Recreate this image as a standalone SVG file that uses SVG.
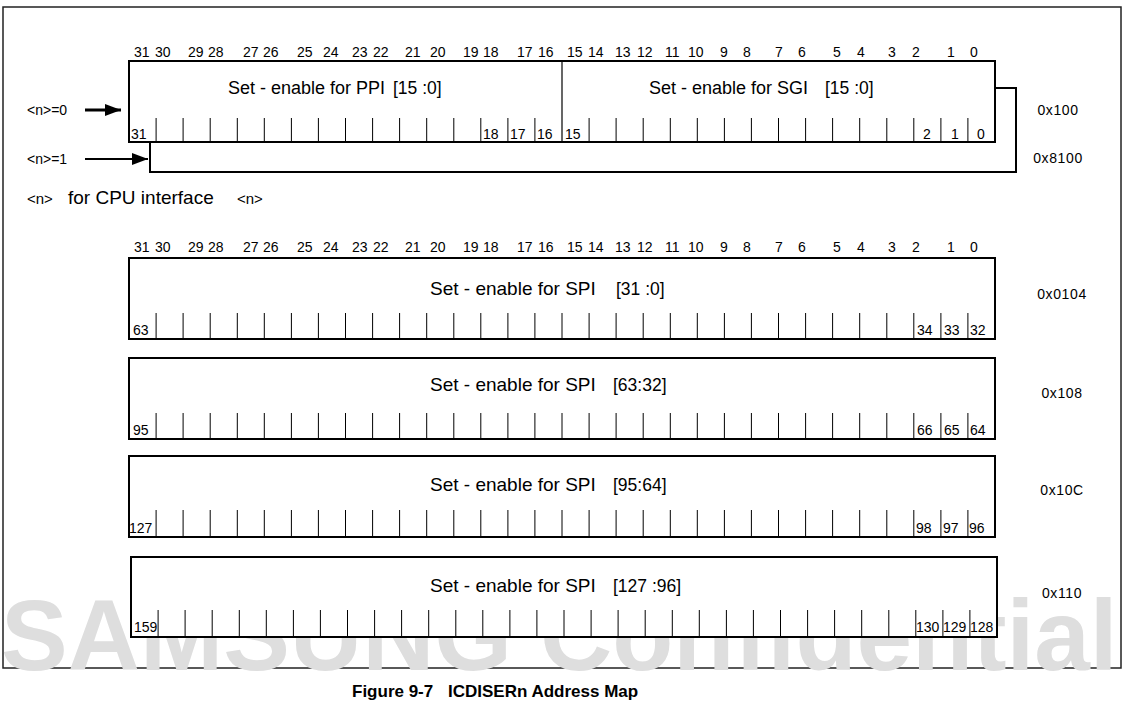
<svg xmlns="http://www.w3.org/2000/svg" width="1124" height="710" viewBox="0 0 1124 710">
<defs>
<marker id="ah" markerWidth="16" markerHeight="12" refX="16" refY="6" orient="auto" markerUnits="userSpaceOnUse">
<path d="M0,0 L16,6 L0,12 Z" fill="#000"/>
</marker>
<style>
text{font-family:"Liberation Sans",Arial,sans-serif;fill:#000}
.bit{font-size:14px}
.cell{font-size:14px}
.ttl{font-size:19px}
.ttl2{font-size:18px}
.rng{font-size:17.5px}
.adr{font-size:14px;letter-spacing:0.6px}
.lbl{font-size:14px}
.box{fill:#fff;stroke:#000;stroke-width:2}
.tick{fill:none;stroke:#000;stroke-width:1}
.wm{font-family:"Liberation Sans",Arial,sans-serif;font-weight:bold;font-size:100px;fill:#dedede}
.cap{font-family:"Liberation Sans",Arial,sans-serif;font-weight:bold;font-size:17px}
</style>
</defs>
<rect x="3" y="7" width="1118" height="661" fill="none" stroke="#222" stroke-width="1.5"/>
<text class="wm" x="1" y="670">SAMSUNG Confidential</text>

<g id="bits-top">
<text class="bit" y="57"><tspan x="134">31</tspan><tspan x="155">30</tspan><tspan x="188">29</tspan><tspan x="208">28</tspan><tspan x="243">27</tspan><tspan x="263">26</tspan><tspan x="297">25</tspan><tspan x="323">24</tspan><tspan x="352">23</tspan><tspan x="373">22</tspan><tspan x="405">21</tspan><tspan x="430">20</tspan><tspan x="463">19</tspan><tspan x="483">18</tspan><tspan x="517">17</tspan><tspan x="538">16</tspan><tspan x="567">15</tspan><tspan x="588">14</tspan><tspan x="615">13</tspan><tspan x="637">12</tspan><tspan x="665">11</tspan><tspan x="688">10</tspan><tspan x="720">9</tspan><tspan x="743">8</tspan><tspan x="775">7</tspan><tspan x="798">6</tspan><tspan x="833">5</tspan><tspan x="857">4</tspan><tspan x="888">3</tspan><tspan x="912">2</tspan><tspan x="947">1</tspan><tspan x="970">0</tspan></text>
</g>

<g id="reg-ppi-sgi">
<rect class="box" x="129" y="61" width="866" height="81"/>
<line x1="562" y1="61" x2="562" y2="142" stroke="#000" stroke-width="1.2"/>
<path class="tick" d="M156.1 118V142M183.1 118V142M210.2 118V142M237.3 118V142M264.3 118V142M291.4 118V142M318.4 118V142M345.5 118V142M372.6 118V142M399.6 118V142M426.7 118V142M453.8 118V142M480.8 118V142M507.9 118V142M534.9 118V142M589.1 118V142M616.1 118V142M643.2 118V142M670.3 118V142M697.3 118V142M724.4 118V142M751.4 118V142M778.5 118V142M805.6 118V142M832.6 118V142M859.7 118V142M886.8 118V142M913.8 118V142M940.9 118V142M967.9 118V142"/>
<text y="94"><tspan class="ttl2" x="228">Set - enable for PPI</tspan><tspan class="rng" x="393">[15 :0]</tspan></text>
<text y="94"><tspan class="ttl2" x="649">Set - enable for SGI</tspan><tspan class="rng" x="825">[15 :0]</tspan></text>
<text class="cell" y="139"><tspan x="131">31</tspan><tspan x="483">18</tspan><tspan x="510">17</tspan><tspan x="537">16</tspan><tspan x="565">15</tspan><tspan x="923">2</tspan><tspan x="951">1</tspan><tspan x="977">0</tspan></text>
</g>

<g id="connectors">
<path d="M150 142V172H1016V88H995" fill="none" stroke="#000" stroke-width="2"/>
<line x1="85" y1="110" x2="121" y2="110" stroke="#000" stroke-width="3" marker-end="url(#ah)"/>
<line x1="85" y1="159" x2="148" y2="159" stroke="#000" stroke-width="2" marker-end="url(#ah)"/>
</g>

<g id="labels-n">
<text class="lbl" x="27" y="115">&lt;n&gt;=0</text>
<text class="lbl" x="27" y="164">&lt;n&gt;=1</text>
<text y="204"><tspan font-size="15px" x="27">&lt;n&gt;</tspan><tspan font-size="19px" x="68">for CPU interface</tspan><tspan font-size="15px" x="237">&lt;n&gt;</tspan></text>
<text class="adr" x="1058" y="115" text-anchor="middle">0x100</text>
<text class="adr" x="1058" y="163" text-anchor="middle">0x8100</text>
</g>

<g id="bits-spi">
<text class="bit" y="252"><tspan x="134">31</tspan><tspan x="155">30</tspan><tspan x="188">29</tspan><tspan x="208">28</tspan><tspan x="243">27</tspan><tspan x="263">26</tspan><tspan x="297">25</tspan><tspan x="323">24</tspan><tspan x="352">23</tspan><tspan x="373">22</tspan><tspan x="405">21</tspan><tspan x="430">20</tspan><tspan x="463">19</tspan><tspan x="483">18</tspan><tspan x="517">17</tspan><tspan x="538">16</tspan><tspan x="567">15</tspan><tspan x="588">14</tspan><tspan x="615">13</tspan><tspan x="637">12</tspan><tspan x="665">11</tspan><tspan x="688">10</tspan><tspan x="720">9</tspan><tspan x="743">8</tspan><tspan x="775">7</tspan><tspan x="798">6</tspan><tspan x="833">5</tspan><tspan x="857">4</tspan><tspan x="888">3</tspan><tspan x="912">2</tspan><tspan x="947">1</tspan><tspan x="970">0</tspan></text>
</g>

<g id="reg-spi-31-0">
<rect class="box" x="129" y="258" width="866" height="81"/>
<path class="tick" d="M156.1 313V339M183.1 313V339M210.2 313V339M237.3 313V339M264.3 313V339M291.4 313V339M318.4 313V339M345.5 313V339M372.6 313V339M399.6 313V339M426.7 313V339M453.8 313V339M480.8 313V339M507.9 313V339M534.9 313V339M562 313V339M589.1 313V339M616.1 313V339M643.2 313V339M670.3 313V339M697.3 313V339M724.4 313V339M751.4 313V339M778.5 313V339M805.6 313V339M832.6 313V339M859.7 313V339M886.8 313V339M913.8 313V339M940.9 313V339M967.9 313V339"/>
<text y="295"><tspan class="ttl" x="430">Set - enable for SPI</tspan><tspan class="rng" x="616">[31 :0]</tspan></text>
<text class="cell" y="335"><tspan x="133">63</tspan><tspan x="917">34</tspan><tspan x="944">33</tspan><tspan x="970">32</tspan></text>
<text class="adr" x="1062" y="299" text-anchor="middle">0x0104</text>
</g>

<g id="reg-spi-63-32">
<rect class="box" x="129" y="358" width="866" height="81"/>
<path class="tick" d="M156.1 413V439M183.1 413V439M210.2 413V439M237.3 413V439M264.3 413V439M291.4 413V439M318.4 413V439M345.5 413V439M372.6 413V439M399.6 413V439M426.7 413V439M453.8 413V439M480.8 413V439M507.9 413V439M534.9 413V439M562 413V439M589.1 413V439M616.1 413V439M643.2 413V439M670.3 413V439M697.3 413V439M724.4 413V439M751.4 413V439M778.5 413V439M805.6 413V439M832.6 413V439M859.7 413V439M886.8 413V439M913.8 413V439M940.9 413V439M967.9 413V439"/>
<text y="391"><tspan class="ttl" x="430">Set - enable for SPI</tspan><tspan class="rng" x="613">[63:32]</tspan></text>
<text class="cell" y="435"><tspan x="133">95</tspan><tspan x="917">66</tspan><tspan x="944">65</tspan><tspan x="970">64</tspan></text>
<text class="adr" x="1062" y="398" text-anchor="middle">0x108</text>
</g>

<g id="reg-spi-95-64">
<rect class="box" x="129" y="456" width="866" height="81"/>
<path class="tick" d="M156.1 510V537M183.1 510V537M210.2 510V537M237.3 510V537M264.3 510V537M291.4 510V537M318.4 510V537M345.5 510V537M372.6 510V537M399.6 510V537M426.7 510V537M453.8 510V537M480.8 510V537M507.9 510V537M534.9 510V537M562 510V537M589.1 510V537M616.1 510V537M643.2 510V537M670.3 510V537M697.3 510V537M724.4 510V537M751.4 510V537M778.5 510V537M805.6 510V537M832.6 510V537M859.7 510V537M886.8 510V537M913.8 510V537M940.9 510V537M967.9 510V537"/>
<text y="491"><tspan class="ttl" x="430">Set - enable for SPI</tspan><tspan class="rng" x="613">[95:64]</tspan></text>
<text class="cell" y="533"><tspan x="129">127</tspan><tspan x="916">98</tspan><tspan x="943">97</tspan><tspan x="969">96</tspan></text>
<text class="adr" x="1062" y="495" text-anchor="middle">0x10C</text>
</g>

<g id="reg-spi-127-96">
<rect class="box" x="131" y="557" width="866" height="80"/>
<path class="tick" d="M158.1 610V637M185.1 610V637M212.2 610V637M239.3 610V637M266.3 610V637M293.4 610V637M320.4 610V637M347.5 610V637M374.6 610V637M401.6 610V637M428.7 610V637M455.8 610V637M482.8 610V637M509.9 610V637M536.9 610V637M564 610V637M591.1 610V637M618.1 610V637M645.2 610V637M672.3 610V637M699.3 610V637M726.4 610V637M753.4 610V637M780.5 610V637M807.6 610V637M834.6 610V637M861.7 610V637M888.8 610V637M915.8 610V637M942.9 610V637M969.9 610V637"/>
<text y="592"><tspan class="ttl" x="430">Set - enable for SPI</tspan><tspan class="rng" x="613">[127 :96]</tspan></text>
<text class="cell" y="632" font-size="13px" fill="#777" x="134">159</text>
<text class="cell" y="632" font-size="13px"><tspan x="916">130</tspan><tspan x="943">129</tspan><tspan x="970">128</tspan></text>
<text class="adr" x="1062" y="598" text-anchor="middle">0x110</text>
</g>

<g id="caption">
<text class="cap" x="352" y="697">Figure 9-7</text>
<text class="cap" x="448" y="697">ICDISERn Address Map</text>
</g>
</svg>
